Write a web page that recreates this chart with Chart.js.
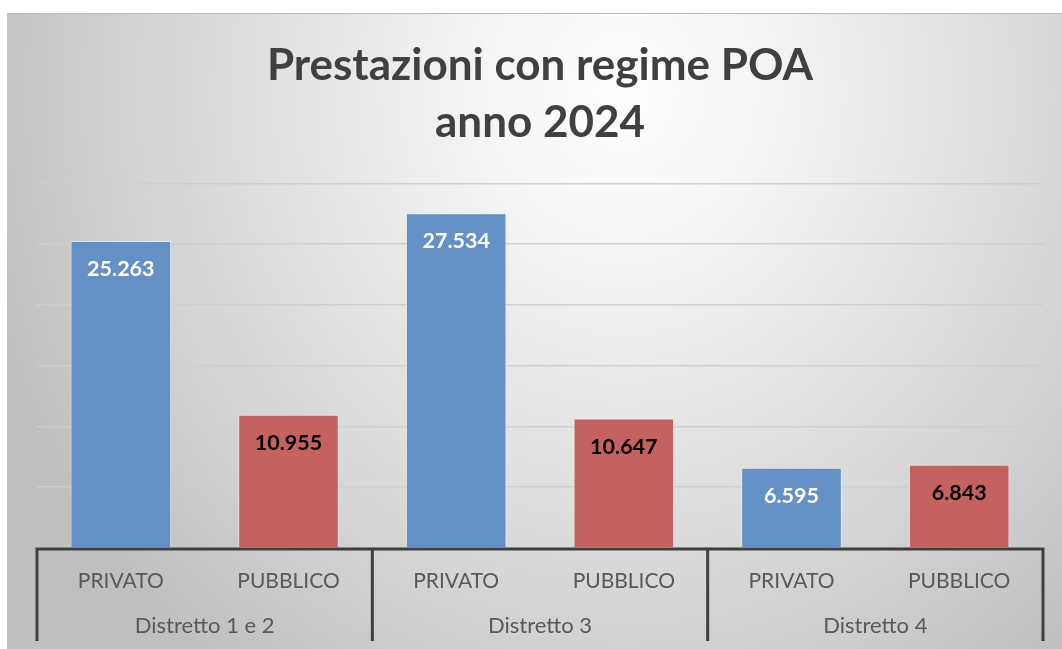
<!DOCTYPE html>
<html lang="it">
<head>
<meta charset="utf-8">
<title>Prestazioni con regime POA anno 2024</title>
<script src="https://cdn.jsdelivr.net/npm/chart.js@4.4.1/dist/chart.umd.min.js"></script>
<style>
    html, body { margin: 0; padding: 0; background: #ffffff; overflow: hidden; }
    #cornice {
        position: absolute; left: 7px; top: 13px; width: 1080px; height: 640px;
        border-top: 1px solid #bdbdbd;
        background: radial-gradient(ellipse 62% 115% at 57% 12%, #ffffff 0%, #f4f4f4 22%, #dcdcdc 60%, #bfbfbf 100%);
    }
    #box { position: absolute; left: 0; top: 0; width: 1082px; height: 649px; }
</style>
</head>
<body>
<div id="cornice"></div>
<div id="box"><canvas id="chartPoa"></canvas></div>
<script>
const distretti = ['Distretto 1 e 2', 'Distretto 3', 'Distretto 4'];
const regimi = ['PRIVATO', 'PUBBLICO'];
const privato = [25263, 27534, 6595];
const pubblico = [10955, 10647, 6843];

const colori = {
    blu: '#6390c5',
    rosso: '#c4625f',
    testo: '#595959',
    titolo: '#404040',
    asse: '#404040'
};

// una barra per ogni coppia distretto/regime
const etichette = [];
const valori = [];
const sfondi = [];
const coloriValori = [];
distretti.forEach((d, i) => {
    etichette.push(regimi[0], regimi[1]);
    valori.push(privato[i], pubblico[i]);
    sfondi.push(colori.blu, colori.rosso);
    coloriValori.push('#ffffff', '#000000');
});

function formatta(n) {
    return String(n).replace(/\B(?=(\d{3})+(?!\d))/g, '.');
}

const valoriPlugin = {
    id: 'valoriBarre',
    afterDatasetsDraw(chart) {
        const c = chart.ctx;
        const meta = chart.getDatasetMeta(0);
        c.save();
        c.font = 'bold 21.5px Lato';
        c.textAlign = 'center';
        c.textBaseline = 'middle';
        meta.data.forEach((bar, i) => {
            c.fillStyle = coloriValori[i];
            c.fillText(formatta(valori[i]), bar.x, bar.y + 28);
        });
        c.restore();
    }
};

const distrettiPlugin = {
    id: 'assiDistretti',
    afterDraw(chart) {
        const c = chart.ctx;
        const x = chart.scales.x;
        const area = chart.chartArea;
        const passo = (x.getPixelForValue(1) - x.getPixelForValue(0));
        c.save();
        c.strokeStyle = colori.asse;
        c.lineWidth = 3;
        c.beginPath();
        c.moveTo(area.left - 1.5, area.bottom + 1);
        c.lineTo(area.right + 1.5, area.bottom + 1);
        for (let g = 0; g <= distretti.length; g++) {
            const px = x.getPixelForValue(g * 2) - passo / 2;
            c.moveTo(px, area.bottom);
            c.lineTo(px, area.bottom + 93);
        }
        c.stroke();
        c.font = '22px Lato';
        c.fillStyle = colori.testo;
        c.textAlign = 'center';
        c.textBaseline = 'middle';
        distretti.forEach((d, g) => {
            const px = (x.getPixelForValue(g * 2) + x.getPixelForValue(g * 2 + 1)) / 2;
            c.fillText(d, px, area.bottom + 78);
        });
        c.restore();
    }
};

const ctxPoa = document.getElementById('chartPoa').getContext('2d');
const chartPoa = new Chart(ctxPoa, {
    type: 'bar',
    data: {
        labels: etichette,
        datasets: [{
            data: valori,
            backgroundColor: sfondi,
            borderColor: 'rgba(255,255,255,0.45)',
            borderWidth: 1,
            categoryPercentage: 1,
            barPercentage: 0.6
        }]
    },
    options: {
        responsive: true,
        maintainAspectRatio: false,
        animation: false,
        events: [],
        layout: { padding: { left: 37, right: 39, top: 0, bottom: 0 } },
        plugins: {
            legend: { display: false },
            tooltip: { enabled: false },
            title: {
                display: true,
                text: ['Prestazioni con regime POA', 'anno 2024'],
                color: colori.titolo,
                font: { family: 'Lato', size: 44, weight: 'bold', lineHeight: 1.3 },
                padding: { top: 37, bottom: 32 }
            }
        },
        scales: {
            x: {
                grid: { display: false, drawTicks: false },
                border: { display: false },
                ticks: {
                    color: colori.testo,
                    font: { family: 'Lato', size: 21 },
                    padding: 21,
                    maxRotation: 0
                },
                afterFit(scale) { scale.height = 101; }
            },
            y: {
                display: true,
                min: 0,
                max: 30000,
                ticks: { display: false, stepSize: 5000 },
                border: { display: false },
                grid: { color: 'rgba(205,205,205,0.9)', lineWidth: 1.5, drawTicks: false },
                afterFit(scale) { scale.width = 0; }
            }
        }
    },
    plugins: [valoriPlugin, distrettiPlugin]
});
</script>
</body>
</html>
